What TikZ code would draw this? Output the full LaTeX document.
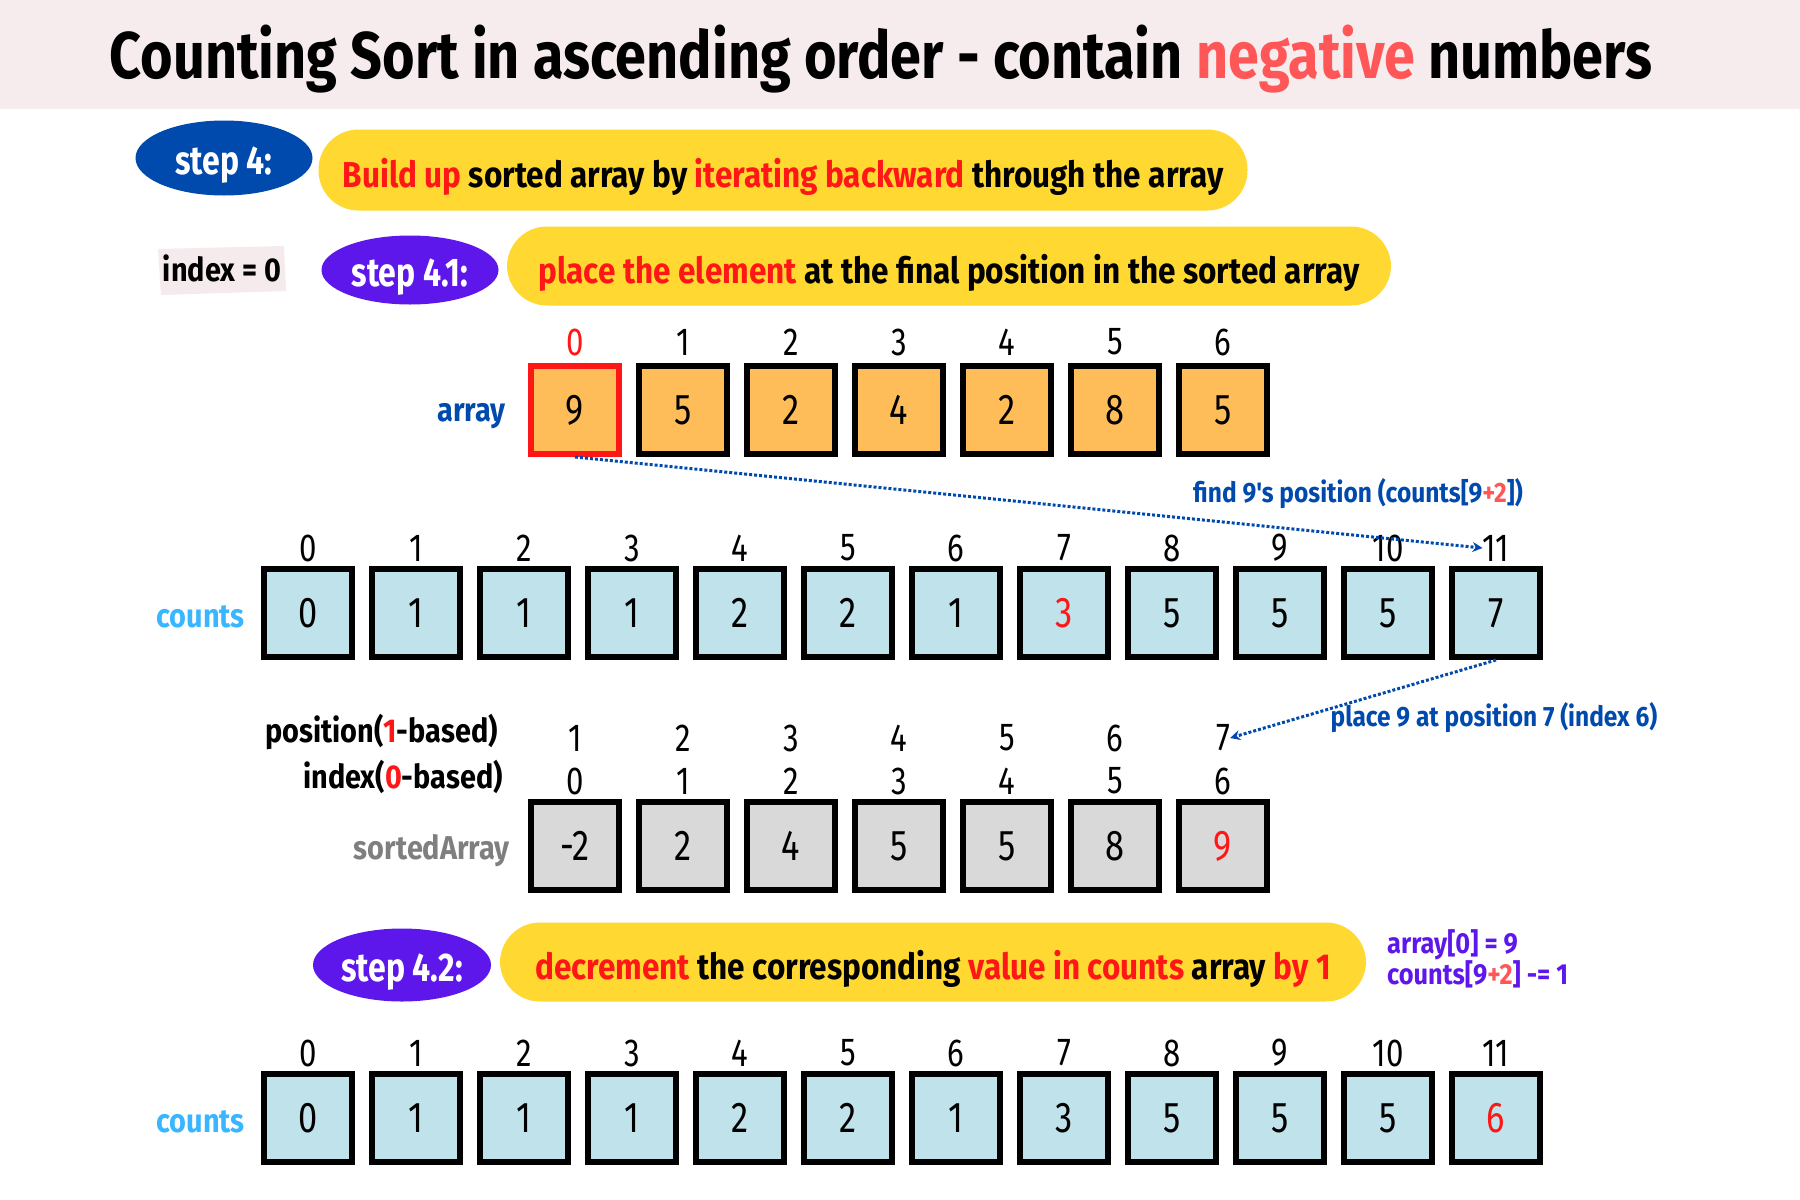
\documentclass[tikz,border=0pt]{standalone}
\usepackage{fontspec}
\setmainfont{Fira Sans}[FakeStretch=0.8]
\newfontfamily\titlefont{Fira Sans}[FakeStretch=0.845]
\newfontfamily\widefont{Fira Sans}[FakeStretch=0.875]
\usetikzlibrary{shapes.geometric,arrows.meta}
\definecolor{bandpink}{HTML}{F6ECEE}
\definecolor{salmon}{HTML}{FF5757}
\definecolor{redtxt}{HTML}{FF1616}
\definecolor{pillyellow}{HTML}{FFD932}
\definecolor{darkblue}{HTML}{004AAD}
\definecolor{purp}{HTML}{5E17EB}
\definecolor{lightblue}{HTML}{38B6FF}
\definecolor{orangefill}{HTML}{FFBD59}
\definecolor{bluefill}{HTML}{C0E3EB}
\definecolor{grayfill}{HTML}{D9D9D9}
\definecolor{graytxt}{HTML}{7F7F7F}
\definecolor{patchpink}{HTML}{F5EAEC}
\begin{document}
\begin{tikzpicture}[x=1pt,y=-1pt,
  fs/.style={font=\fontsize{#1}{#1}\selectfont},
  wfs/.style={font=\widefont\fontsize{#1}{#1}\selectfont\bfseries},
  cellbox/.style={draw=black, line width=6pt, minimum width=88pt, minimum height=88pt, inner sep=0pt, fs=43},
  arrcell/.style={cellbox, fill=orangefill},
  cntcell/.style={cellbox, fill=bluefill},
  srtcell/.style={cellbox, fill=grayfill},
  idx/.style={fs=39, inner sep=0pt},
  pill/.style={fill=pillyellow, rounded corners=40pt, inner sep=0pt, wfs=36, text height=35pt, text depth=0pt},
  stepoval/.style={ellipse, inner sep=0pt, text=white, font=\fontsize{40}{40}\selectfont\bfseries, text height=32pt, text depth=0pt},
  rowlabel/.style={wfs=33, inner sep=0pt},
  note/.style={wfs=28, inner sep=0pt},
  flow/.style={draw=darkblue, dotted, line width=3pt, -{Stealth[length=10pt,width=10pt]}}
]
\useasboundingbox (0,0) rectangle (1800,1200);
\fill[white] (0,0) rectangle (1800,1200);
\fill[bandpink] (0,0) rectangle (1800,109);

% title
\node[anchor=base, inner sep=0pt, font=\titlefont\fontsize{66}{66}\selectfont\bfseries] (title) at (881,78)
  {Counting Sort in ascending order - contain \textcolor{salmon}{negative} numbers};

% step 4
\node[stepoval, fill=darkblue, minimum width=177pt, minimum height=75pt] (s4) at (224,158) {step 4:};
\node[pill, minimum width=929pt, minimum height=81pt] (p1) at (783,170)
  {\textcolor{redtxt}{Build up} sorted array by \textcolor{redtxt}{iterating backward} through the array};

% index = 0
\fill[patchpink] (158,249) -- (284,246) -- (286,291) -- (161,295) -- cycle;
\node[wfs=33, inner sep=0pt] (ix) at (222,268) {index = 0};

% step 4.1
\node[stepoval, fill=purp, minimum width=177pt, minimum height=69pt] (s41) at (410,270) {step 4.1:};
\node[pill, minimum width=884pt, minimum height=79pt] (p2) at (949,266)
  {\textcolor{redtxt}{place the element} at the final position in the sorted array};

% array
\node[rowlabel, anchor=base east, text=darkblue] (arrlab) at (506,421) {array};
\foreach \v/\c/\b [count=\i from 0] in {9/redtxt/redtxt,5/black/black,2/black/black,4/black/black,2/black/black,8/black/black,5/black/black}{
  \node[arrcell, draw=\b] (a\i) at ({575+108*\i},410) {\v};
  \node[idx, text=\c] (ai\i) at ({575+108*\i},342) {\i};
}

% counts row 1
\node[rowlabel, anchor=base east, text=lightblue] (cntlab1) at (245,627) {counts};
\foreach \v/\c [count=\i from 0] in {0/black,1/black,1/black,1/black,2/black,2/black,1/black,3/redtxt,5/black,5/black,5/black,7/black}{
  \node[cntcell, text=\c] (c\i) at ({308+108*\i},613) {\v};
  \node[idx] (ci\i) at ({308+108*\i},548) {\i};
}

\draw[flow] (a0.south) -- (ci11.west);
\node[note, anchor=base, text=darkblue] (n1) at (1358,502)
  {find 9's position (counts[9\textcolor{salmon}{+2}])};

% sorted array
\node[rowlabel, anchor=base east] (poslab) at (498,742) {position(\textcolor{redtxt}{1}-based)};
\node[rowlabel, anchor=base east] (idxlab) at (503,788) {index(\textcolor{redtxt}{0}-based)};
\node[rowlabel, anchor=base east, text=graytxt] (srtlab) at (510,859) {sortedArray};
\foreach \v/\c [count=\i from 0] in {-2/black,2/black,4/black,5/black,5/black,8/black,9/redtxt}{
  \node[srtcell, text=\c] (s\i) at ({575+108*\i},846) {\v};
  \node[idx] (si\i) at ({575+108*\i},781) {\i};
  \pgfmathtruncatemacro{\p}{\i+1}
  \node[idx] (sp\i) at ({575+108*\i},738) {\p};
}

\draw[flow] (c11.south) -- (sp6.east);
\node[note, anchor=base, text=darkblue] (n2) at (1494,726)
  {place 9 at position 7 (index 6)};

% step 4.2
\node[stepoval, fill=purp, minimum width=178pt, minimum height=73pt] (s42) at (402,965) {step 4.2:};
\node[pill, minimum width=866pt, minimum height=79pt] (p3) at (933,962)
  {\textcolor{redtxt}{decrement} the corresponding \textcolor{redtxt}{value in counts} array \textcolor{redtxt}{by 1}};
\node[note, anchor=base west, text=purp, wfs=29] (side1) at (1387,953) {array[0] = 9};
\node[note, anchor=base west, text=purp, wfs=29] (side2) at (1387,984) {counts[9\textcolor{salmon}{+2}] -= 1};

% counts row 2
\node[rowlabel, anchor=base east, text=lightblue] (cntlab2) at (245,1132) {counts};
\foreach \v/\c [count=\i from 0] in {0/black,1/black,1/black,1/black,2/black,2/black,1/black,3/black,5/black,5/black,5/black,6/redtxt}{
  \node[cntcell, text=\c] (d\i) at ({308+108*\i},1118) {\v};
  \node[idx] (di\i) at ({308+108*\i},1053) {\i};
}
\end{tikzpicture}
\end{document}
